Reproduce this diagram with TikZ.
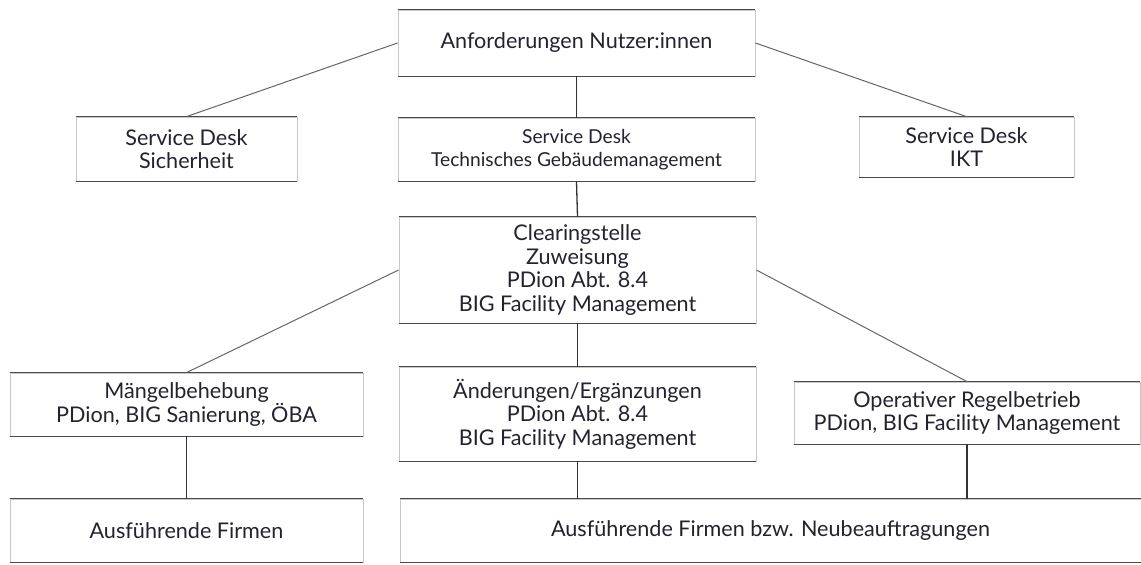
\documentclass[tikz,border=0pt]{standalone}
\usepackage{fontspec}
\setmainfont{Lato}
\definecolor{txt}{HTML}{232330}
\definecolor{edgedark}{HTML}{4A4A4A}
\definecolor{edgelight}{HTML}{C8C8CC}
\begin{document}
\begin{tikzpicture}[x=0.5pt,y=-0.5pt,
  box/.style={draw=edgelight,line width=0.4pt,fill=white,text=txt,align=center,
    font=\fontsize{10.8}{11.7}\selectfont,inner sep=0pt},
  smalltext/.style={font=\fontsize{9.6}{11.2}\selectfont},
  rule/.style={draw=edgedark,line width=0.55pt},
  vline/.style={draw=black!80,line width=0.65pt},
  dline/.style={draw=black!60,line width=0.5pt}]
\useasboundingbox[fill=white] (0,0) rectangle (1141,565);
\node[box,minimum width=178.5pt,minimum height=33pt] (top) at (576.5,43) {Anforderungen Nutzer:innen};
\node[box,minimum width=110.5pt,minimum height=32pt] (sich) at (186.5,149) {Service Desk\\Sicherheit};
\node[box,smalltext,minimum width=178.5pt,minimum height=31.5pt] (tgm) at (576.5,149.5) {Service Desk\\Technisches Gebäudemanagement};
\node[box,minimum width=107.5pt,minimum height=30pt] (ikt) at (966.5,147) {Service Desk\\IKT};
\node[box,minimum width=178.5pt,minimum height=53pt] (clear) at (577.5,270) {Clearingstelle\\Zuweisung\\PDion Abt. 8.4\\BIG Facility Management};
\node[box,minimum width=178.5pt,minimum height=47pt] (aend) at (577.5,414) {Änderungen/Ergänzungen\\PDion Abt. 8.4\\BIG Facility Management};
\node[box,minimum width=176.5pt,minimum height=31.5pt] (maeng) at (186.5,404.5) {Mängelbehebung\\PDion, BIG Sanierung, ÖBA};
\node[box,minimum width=173pt,minimum height=31pt] (oper) at (967,413) {Operativer Regelbetrieb\\PDion, BIG Facility Management};
\node[box,minimum width=176.5pt,minimum height=31.5pt] (ausf) at (186.5,530.5) {Ausführende Firmen};
\node[box,minimum width=370.5pt,minimum height=31.5pt] (big) at (770.5,530.5) {Ausführende Firmen bzw. Neubeauftragungen};
\foreach \n in {top,sich,tgm,ikt,clear,aend,maeng,oper,ausf,big}
  \draw[rule] (\n.north west) -- (\n.north east) (\n.south west) -- (\n.south east);
\draw[dline] (top.west) -- (sich.north);
\draw[dline] (top.east) -- (ikt.north);
\draw[dline] (clear.west) -- (maeng.north);
\draw[dline] (clear.east) -- (oper.north);
\draw[vline] (top.south) -- (tgm.north);
\draw[vline] (tgm.south) -- (clear.north);
\draw[vline] (clear.south) -- (aend.north);
\draw[vline] (maeng.south) -- (ausf.north);
\draw[vline] (aend.south) -- (aend.south |- big.north);
\draw[vline] (oper.south) -- (oper.south |- big.north);
\end{tikzpicture}
\end{document}
